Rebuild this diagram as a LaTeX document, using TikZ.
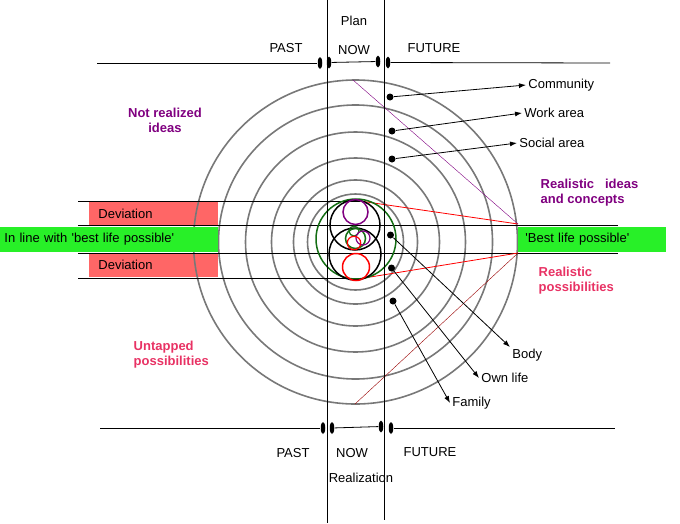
\documentclass[tikz,border=0pt]{standalone}
\usepackage{fontspec}
\setmainfont{Liberation Sans}
\usetikzlibrary{arrows.meta,shapes.geometric}

\definecolor{lgreen}{RGB}{40,240,40}
\definecolor{lred}{RGB}{255,102,102}
\definecolor{ppl}{RGB}{128,0,128}
\definecolor{pnk}{RGB}{232,50,100}
\definecolor{ring}{RGB}{120,120,120}
\definecolor{dgreen}{RGB}{20,110,20}

\tikzset{
  dot/.style={circle, fill, inner sep=0pt, minimum size=7pt},
  tick/.style={ellipse, fill, inner sep=0pt, minimum width=4.5pt, minimum height=12pt},
  lbl/.style={inner sep=2pt},
  redbox/.style={anchor=west, fill=lred, minimum height=23pt, inner ysep=0pt, inner xsep=9pt, text width=111pt, align=left},
  greenbar/.style={anchor=west, fill=lgreen, minimum height=25pt, inner ysep=0pt, align=left},
  bold/.style={font=\fontsize{13}{15}\selectfont\bfseries},
}

\begin{document}
\begin{tikzpicture}[thick, x=1pt, y=-1pt, >={Latex[length=7pt,width=5pt]}, font=\fontsize{13}{15}\selectfont]
  \useasboundingbox (0,0) rectangle (680,523);

  \node[redbox] (D1) at (89,213.5) {Deviation};
  \node[redbox] (D2) at (89,265) {Deviation};

  \foreach \r in {162,137,110,84,62,48}
    \draw[ring, line width=1.6pt] (355.5,242) circle [radius=\r pt];

  \draw (78,201) -- (360,201);
  \draw (78,225) -- (618,225);
  \draw (78,253) -- (618,253);
  \draw (78,278) -- (358,278);

  \node[greenbar, inner xsep=4pt, text width=210pt] (G1) at (0,239) {In line with \textquotesingle best life possible\textquotesingle};
  \node[greenbar, inner xsep=7pt, text width=134pt] (G2) at (518,239) {\textquotesingle Best life possible\textquotesingle};

  \coordinate (RT) at (518,224);
  \coordinate (RB) at (518,253);
  \draw[red] (360,201) -- (RT);
  \draw[red] (358,279) -- (RB);
  \draw[ppl, thin] (353,80) -- (RT);
  \draw[red!60!black, thin] (355,404) -- (RB);

  \draw[dgreen, line width=1.5pt] (356,239) circle [radius=40pt];
  \draw[line width=1.5pt] (355,225) circle [radius=25pt];
  \draw[line width=1.5pt] (355,254) circle [radius=26pt];
  \draw[ppl, line width=1.5pt] (355.5,212) circle [radius=12.5pt];
  \draw[red, line width=1.5pt] (356,267) circle [radius=13.5pt];
  \draw[dgreen, line width=1.5pt] (355.5,238.5) circle [radius=10pt];
  \draw[dgreen, line width=1.2pt] (354,231) circle [radius=5pt];
  \draw[ppl, line width=1.2pt] (363,238) circle [radius=7pt];
  \draw[red, line width=1.2pt] (354,243) circle [radius=6.7pt];

  \draw (327,0) -- (327,523);
  \draw (384,0) -- (384,520);

  \node[tick] (P1) at (320,63) {};
  \node[tick] (P2) at (329,62.5) {};
  \node[tick] (P3) at (378,61.5) {};
  \node[tick] (P4) at (388,62.5) {};
  \draw (97,63) -- (P1);
  \draw (P2) -- (P3);
  \draw (P4) -- (610,63);

  \node[tick] (Q1) at (323,428) {};
  \node[tick] (Q2) at (332,428) {};
  \node[tick] (Q3) at (381,426.5) {};
  \node[tick] (Q4) at (391,428) {};
  \draw (100,428) -- (Q1);
  \draw (Q2) -- (Q3);
  \draw (Q4) -- (615,428);

  \node (plan) at (354,21) {Plan};
  \node (past1) at (286,48) {PAST};
  \node (now1) at (354,50) {NOW};
  \node (fut1) at (434,48) {FUTURE};
  \node (past2) at (293,453) {PAST};
  \node (now2) at (352,453) {NOW};
  \node (fut2) at (430,452) {FUTURE};
  \node (real) at (361,478) {Realization};

  \node[ppl, bold, align=center] (NR) at (165,120) {Not realized\\ideas};
  \node[pnk, bold, align=left, anchor=west] (UP) at (130,354.5) {Untapped\\possibilities};
  \node[ppl, bold, align=left, anchor=west] (RI) at (537,192.5) {Realistic\ \ \ ideas\\and concepts};
  \node[pnk, bold, align=left, anchor=west] (RP) at (535,280.5) {Realistic\\possibilities};

  \node[dot] (c) at (390,97) {};
  \node[dot] (w) at (392,131) {};
  \node[dot] (s) at (392,159) {};
  \node[lbl, anchor=west] (C) at (526,85) {Community};
  \node[lbl, anchor=west] (W) at (522,113) {Work area};
  \node[lbl, anchor=west] (S) at (517,143) {Social area};
  \draw[->] (c) -- (C.west);
  \draw[->] (w) -- (W.west);
  \draw[->] (s) -- (S.west);

  \node[dot] (b) at (390.5,235) {};
  \node[dot] (o) at (391.5,268) {};
  \node[dot] (f) at (393,301) {};
  \node[lbl, anchor=north west] (B) at (510,347) {Body};
  \node[lbl, anchor=west] (O) at (479,378) {Own life};
  \node[lbl, anchor=west] (F) at (450,403) {Family};
  \draw[->] (b) -- (B.north west);
  \draw[->] (o) -- (O.west);
  \draw[->] (f) -- (F.west);
\end{tikzpicture}
\end{document}
